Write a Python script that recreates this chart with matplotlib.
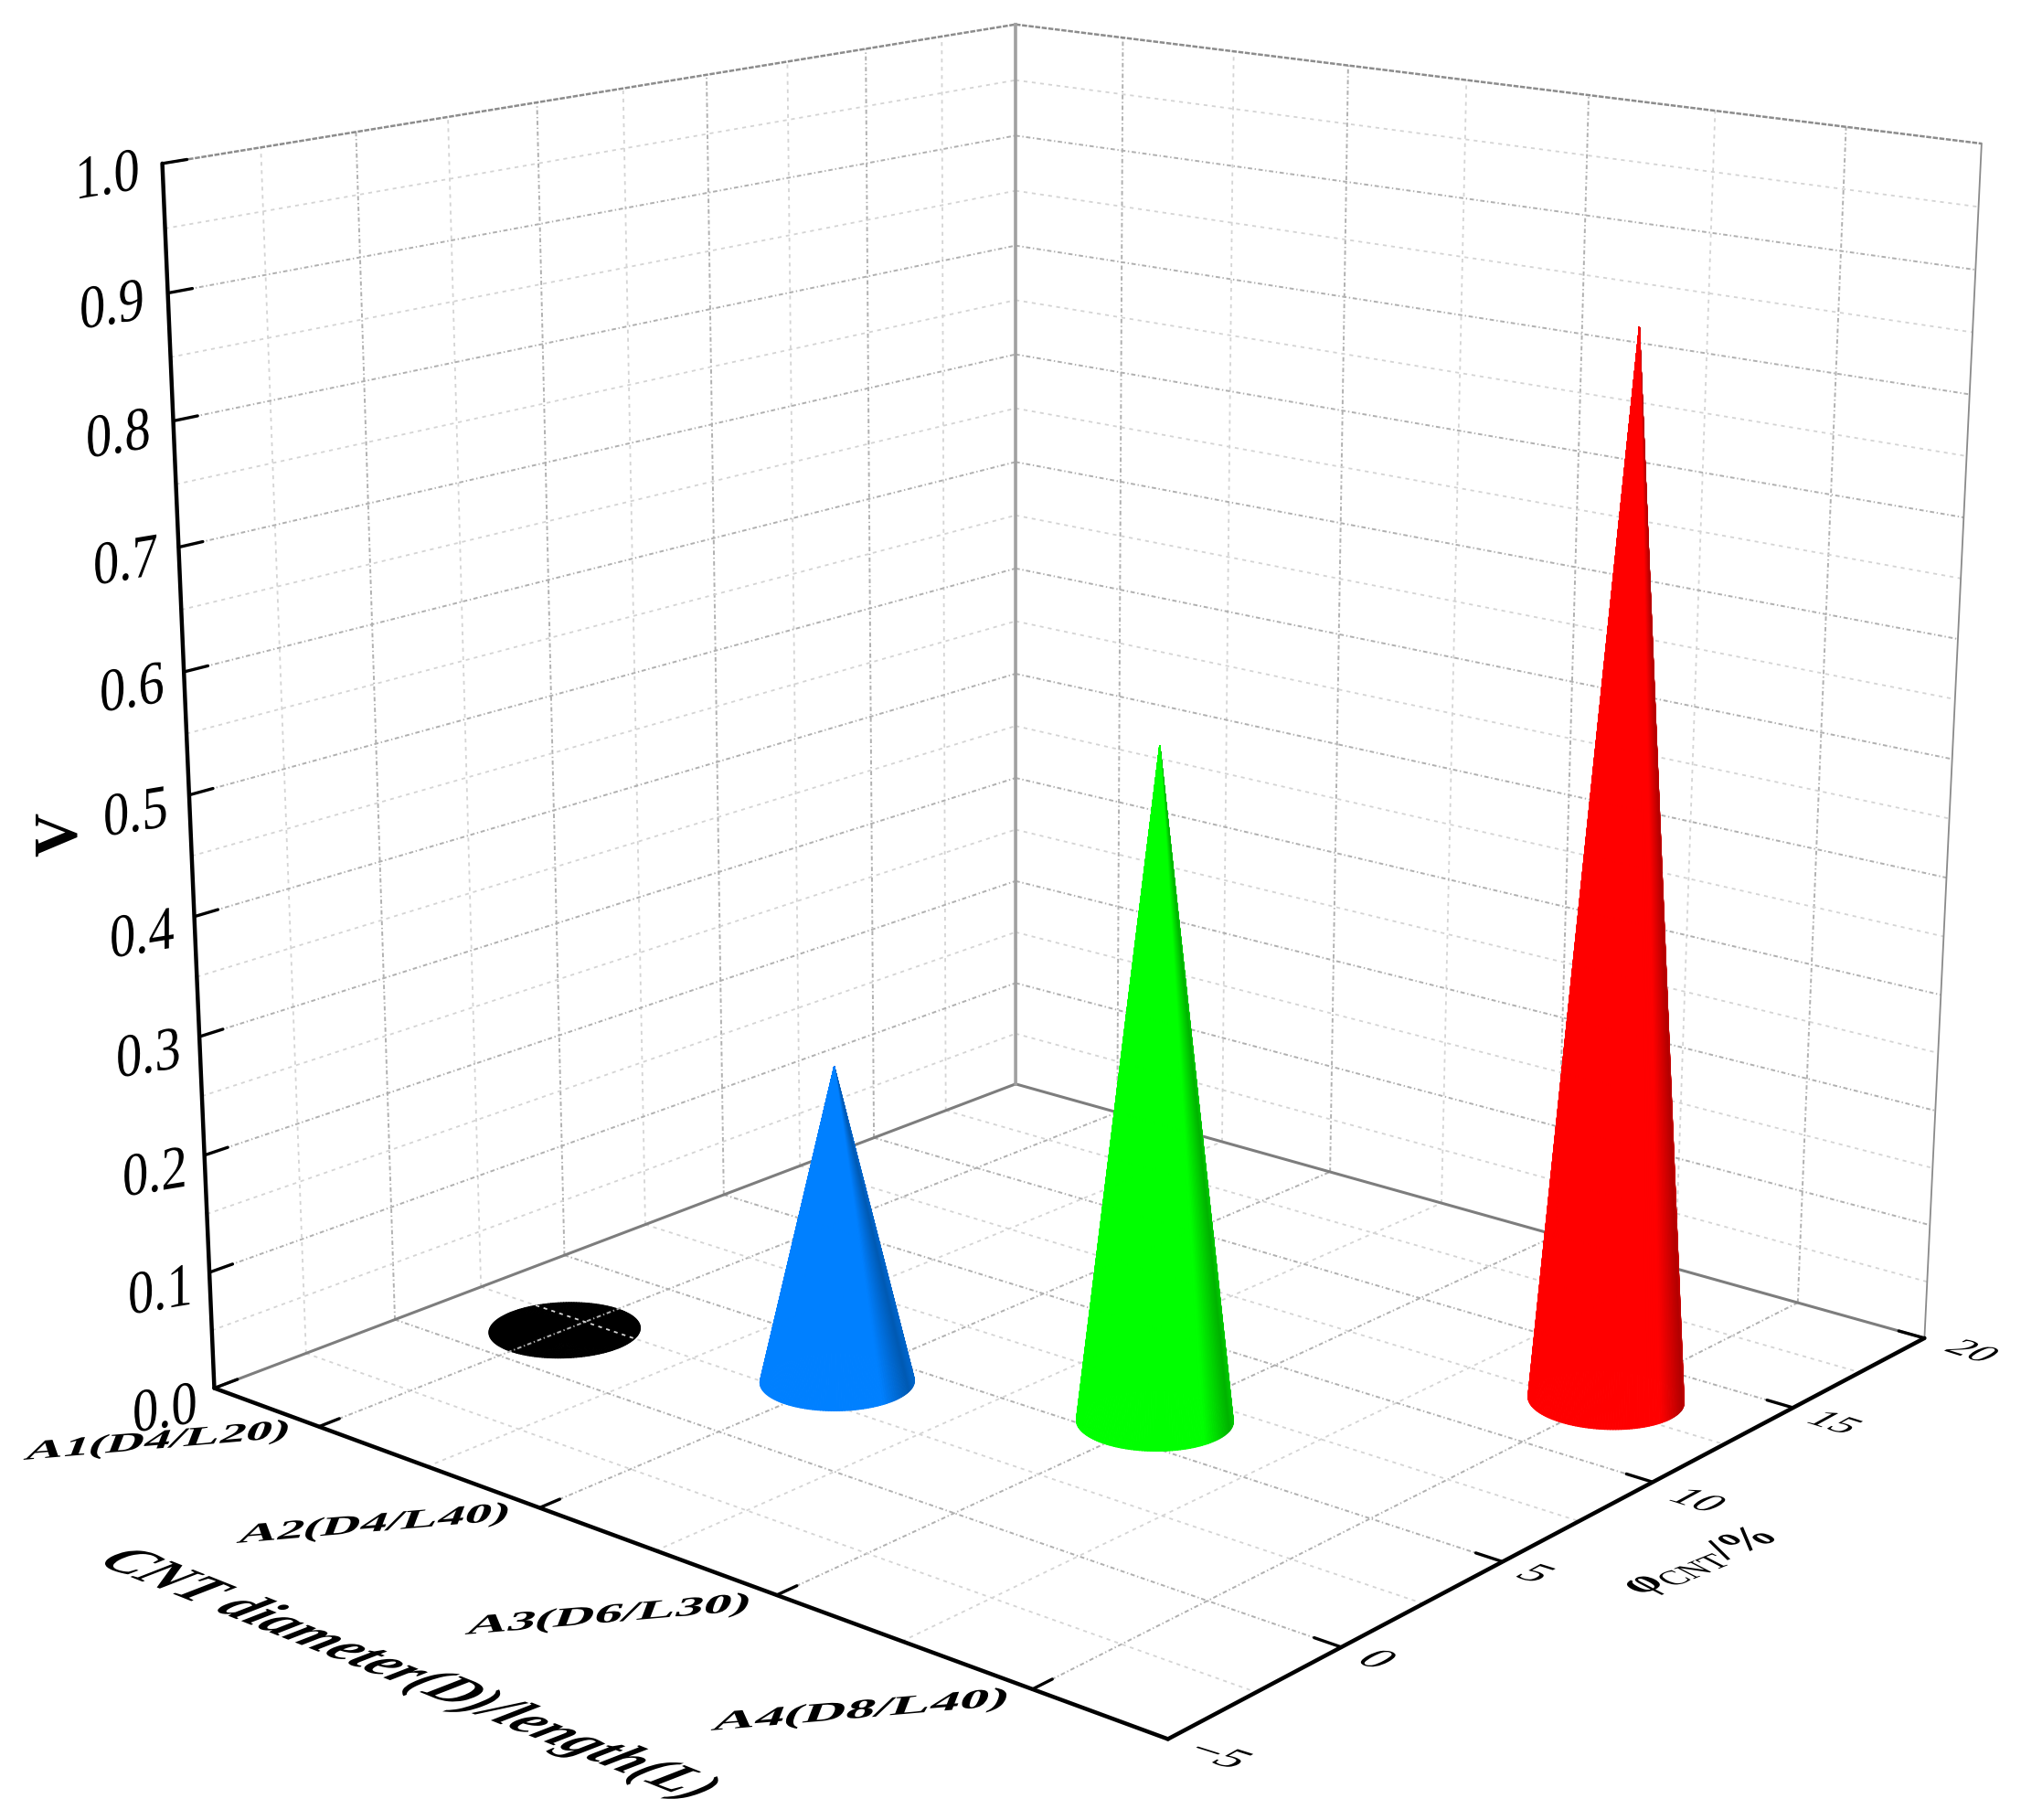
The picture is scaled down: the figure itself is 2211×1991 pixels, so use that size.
import numpy as np
import matplotlib
matplotlib.use("Agg")
import matplotlib.pyplot as plt
from matplotlib.patheffects import AbstractPathEffect
from matplotlib.transforms import Affine2D

W, H = 2211, 1991

categories = ["A1(D4/L20)", "A2(D4/L40)", "A3(D6/L30)", "A4(D8/L40)"]
cat_pos = [1, 2, 3, 4]
phi_values = [1.9, 3.5, 6.1, 12.9]
v_values = [0.0, 0.27, 0.56, 0.88]
cone_colors = [(0, 0, 0), (0, 0.5, 1), (0, 1, 0), (1, 0, 0)]
phi_ticks = [-5, 0, 5, 10, 15, 20]
v_ticks = [0.0, 0.1, 0.2, 0.3, 0.4, 0.5, 0.6, 0.7, 0.8, 0.9, 1.0]

plt.rcParams["font.family"] = ["Liberation Serif", "DejaVu Serif"]
plt.rcParams["mathtext.fontset"] = "custom"
plt.rcParams["mathtext.rm"] = "Liberation Serif"
plt.rcParams["mathtext.bf"] = "Liberation Serif:bold"
plt.rcParams["mathtext.default"] = "rm"
plt.rcParams["lines.scale_dashes"] = False

MAJOR = dict(color="#b0b0b0", lw=1.4, ls=(0, (3.4, 2, 1, 2)), zorder=1)
MINOR = dict(color="#d4d4d4", lw=1.3, ls=(0, (3, 3.5)), zorder=1)
AXIS = dict(color="black", lw=3.2, solid_capstyle="round", zorder=2)
BACK = dict(color="#7d7d7d", lw=2.2, zorder=2)
TOP = dict(color="#8c8c8c", lw=1.8, ls=(0, (4, 1.2)), zorder=1.5)


class Warp(AbstractPathEffect):
    # text lying in a plane of the box: squash and shear the glyphs
    def __init__(self, a, b, c, d):
        super().__init__()
        self.lin = np.array([[a, c], [b, d]])

    def draw_path(self, renderer, gc, tpath, affine, rgbFace=None):
        m = affine.get_matrix().copy()
        m[:2, :2] = self.lin @ m[:2, :2]
        renderer.draw_path(gc, tpath, Affine2D(m), rgbFace)


def label(px, py, s, size, warp, **kw):
    # half the font size and twice the warp, the glyphs come out at `size`
    fig.text(px / W, 1 - py / H, s, fontsize=size / 2, ha="left", va="baseline",
             path_effects=[Warp(*[2 * w for w in warp])], **kw)


fig = plt.figure(figsize=(W / 100, H / 100), dpi=100)
ax = fig.add_axes([0, 0, 1, 1], projection="3d", computed_zorder=False)
ax.set_xlim(0.5, 4.5)
ax.set_ylim(-5, 20)
ax.set_zlim(0, 1)
ax.view_init(elev=15.81, azim=-50.01, roll=-0.19)
ax.set_proj_type("persp", focal_length=0.4857)
ax.set_box_aspect((0.997, 0.9956, 1.0))
ax.set_axis_off()

# place the axes so that the box lands where it is in the figure
ax.apply_aspect()
cx, cy, scale = 1184.15, 849.79, 12454.88
p0, p1 = ax.transData.transform([(0, 0), (0.01, 0.01)])
k = scale / ((p1[0] - p0[0]) / 0.01)
bb = ax.bbox
left = cx - (p0[0] - bb.x0) * k
bottom = (H - cy) - (p0[1] - bb.y0) * k
ax.set_position([left / W, bottom / H, bb.width * k / W, bb.height * k / H])

x_lo, x_hi, y_lo, y_hi = 0.5, 4.5, -5, 20
x_major = cat_pos
x_minor = [1.5, 2.5, 3.5]
y_major = [0, 5, 10, 15]
y_minor = [-2.5, 2.5, 7.5, 12.5, 17.5]
z_major = v_ticks[1:-1]
z_minor = [0.05, 0.15, 0.25, 0.35, 0.45, 0.55, 0.65, 0.75, 0.85, 0.95]

# grid on the floor and on both walls
for xs, st in ((x_major, MAJOR), (x_minor, MINOR)):
    for x in xs:
        ax.plot([x, x], [y_lo, y_hi], [0, 0], **st)
        ax.plot([x, x], [y_hi, y_hi], [0, 1], **st)
for ys, st in ((y_major, MAJOR), (y_minor, MINOR)):
    for y in ys:
        ax.plot([x_lo, x_hi], [y, y], [0, 0], **st)
        ax.plot([x_lo, x_lo], [y, y], [0, 1], **st)
for zs, st in ((z_major, MAJOR), (z_minor, MINOR)):
    for z in zs:
        ax.plot([x_lo, x_lo], [y_lo, y_hi], [z, z], **st)
        ax.plot([x_lo, x_hi], [y_hi, y_hi], [z, z], **st)

# box edges
ax.plot([x_lo, x_lo], [y_lo, y_hi], [1, 1], **TOP)
ax.plot([x_lo, x_hi], [y_hi, y_hi], [1, 1], **TOP)
ax.plot([x_lo, x_lo], [y_lo, y_hi], [0, 0], **BACK)
ax.plot([x_lo, x_hi], [y_hi, y_hi], [0, 0], **BACK)
ax.plot([x_lo, x_lo], [y_hi, y_hi], [0, 1], color="#a0a0a0", lw=2.6, zorder=2)
ax.plot([x_hi, x_hi], [y_hi, y_hi], [0, 1], color="#8a8a8a", lw=1.3, zorder=2)
ax.plot([x_lo, x_hi], [y_lo, y_lo], [0, 0], **AXIS)
ax.plot([x_hi, x_hi], [y_lo, y_hi], [0, 0], **AXIS)
ax.plot([x_lo, x_lo], [y_lo, y_lo], [0, 1], **AXIS)

# ticks
for x in x_major:
    ax.plot([x, x], [y_lo, y_lo + 0.55], [0, 0], **dict(AXIS, lw=2.4))
for y in phi_ticks[1:]:
    ax.plot([x_hi, x_hi - 0.1], [y, y], [0, 0], **dict(AXIS, lw=2.4))
for z in v_ticks:
    ax.plot([x_lo, x_lo], [y_lo, y_lo + 0.62], [z, z], **dict(AXIS, lw=2.4))


def cone(x, y, h, color, zorder):
    theta = np.linspace(0, 2 * np.pi, 181)
    rx, ry = 0.063 * 4, 0.063 * 25
    X = np.array([x + rx * np.cos(theta), x + 0 * theta])
    Y = np.array([y + ry * np.sin(theta), y + 0 * theta])
    Z = np.array([0 * theta, h + 0 * theta])
    # lit from the left, falls off towards the right rim
    u = np.cos(theta - np.deg2rad(40))
    b = np.interp(u, [-1, 0.6, 0.93, 1.0], [1.0, 1.0, 0.7, 0.8])
    fc = np.zeros((2, theta.size, 4))
    fc[:, :, :3] = b[:, None] * np.array(color)
    fc[:, :, 3] = 1
    ax.plot_surface(X, Y, Z, facecolors=fc, rcount=2, ccount=theta.size,
                    shade=False, linewidth=0.8, zorder=zorder)


for i in range(4):
    cone(cat_pos[i], phi_values[i], v_values[i], cone_colors[i], 0.5 if i == 0 else 3)

# tick labels, their left baseline points as they sit in the figure
v_label_pts = [(145, 1567), (140, 1438), (134, 1309), (127, 1179), (120, 1048), (113, 915),
               (109, 779), (102, 640), (94, 501), (87, 360), (82, 218)]
for t, (px, py) in zip(v_ticks, v_label_pts):
    label(px, py, f"{t:.1f}", 42, (0.97, 0.16, 0.0, 1.15))

cat_label_pts = [(25, 1597), (258, 1688), (508, 1788), (777, 1893)]
cat_widths = [300, 308, 322, 336]
for s, (px, py), w in zip(categories, cat_label_pts, cat_widths):
    f = w / 219
    label(px, py, s, 30, (f, 0.085 * f, 0.28, 0.72), fontweight="bold")

phi_label_pts = [(1293, 1918), (1481, 1818), (1655, 1724), (1822, 1640), (1973, 1555), (2125, 1477)]
phi_scale = [1.15, 1.15, 1.1, 1.05, 1.0, 0.98]
for t, (px, py), f in zip(phi_ticks, phi_label_pts, phi_scale):
    label(px, py, str(t).replace("-", "\u2212"), 30, (1.08 * f, -0.34 * f, 0.88 * f, 0.48 * f))

label(105, 1710, "CNT diameter(D)/length(L)", 40, (1.03, -0.41, 1.05, 0.55),
      fontweight="bold", fontstyle="italic")
label(1795, 1745, r"$\mathbf{φ}_{\mathrm{CNT}}$/%", 30, (1.11, 0.45, -1.14, 0.59), fontweight="bold")
fig.text(66 / W, 1 - 913 / H, "V", fontsize=48, fontweight="bold", rotation=90,
         ha="center", va="center")

fig.savefig("out.png", dpi=100)
